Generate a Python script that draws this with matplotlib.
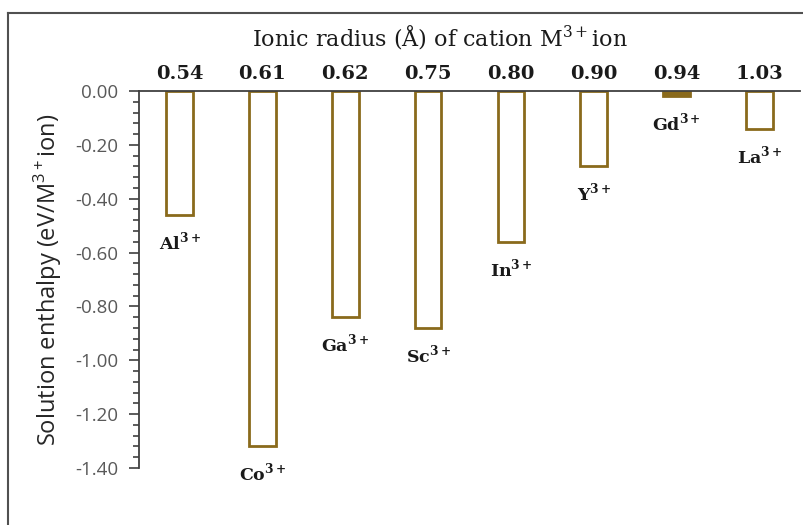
import matplotlib
matplotlib.use('Agg')
import matplotlib.pyplot as plt
from matplotlib.lines import Line2D
from matplotlib.ticker import MultipleLocator, FixedLocator


ions = ['Al', 'Co', 'Ga', 'Sc', 'In', 'Y', 'Gd', 'La']
radii = ['0.54', '0.61', '0.62', '0.75', '0.80', '0.90', '0.94', '1.03']
enthalpy = [-0.46, -1.32, -0.84, -0.88, -0.56, -0.28, -0.02, -0.14]

bar_color = '#8a6a1c'
axis_color = '#404040'
serif = 'DejaVu Serif'
sans = 'Open Sans'

fig = plt.figure(figsize=(8.04, 5.25), dpi=100)
ax = fig.add_axes([139 / 804, (525 - 468) / 525, (800 - 139) / 804, (468 - 91) / 525])

xs = list(range(len(ions)))
for i, val in zip(xs, enthalpy):
    filled = abs(val) < 0.03
    ax.bar(i, val, width=0.32, facecolor=bar_color if filled else 'white',
           edgecolor=bar_color, linewidth=2)
    ax.annotate(ions[i] + r'$^{\mathregular{3+}}$', (i, val), xytext=(0, -27),
                textcoords='offset pixels', ha='center', va='center',
                fontsize=12.5, fontweight='bold', family=serif, color='#1a1a1a')

ax.set_xlim(-0.49, 7.49)
ax.set_ylim(-1.4, 0)

for s in ['right', 'bottom']:
    ax.spines[s].set_visible(False)
for s in ['left', 'top']:
    ax.spines[s].set_color(axis_color)
    ax.spines[s].set_linewidth(1.3)

ax.xaxis.tick_top()
ax.xaxis.set_major_locator(FixedLocator(xs))
ax.set_xticklabels(radii, fontsize=14, fontweight='bold', family=serif, color='#1a1a1a')
ax.tick_params(axis='x', length=0, pad=6)

ax.yaxis.set_major_locator(MultipleLocator(0.2))
ax.yaxis.set_minor_locator(MultipleLocator(0.04))
ax.set_yticks(ax.get_yticks())
ax.set_yticklabels(['%.2f' % v for v in ax.get_yticks()], family=sans, fontsize=13.5,
                   color='#595959')
ax.set_ylim(-1.4, 0)
ax.tick_params(axis='y', which='major', length=7, width=1.2, color=axis_color, pad=8)
ax.tick_params(axis='y', which='minor', length=4, width=1.2, color=axis_color)

ax.set_ylabel(r'Solution enthalpy (eV/M$^{\mathregular{3+}}$ion)', family=sans,
              fontsize=17, color='#262626', labelpad=8)
fig.text(440 / 804, 1 - 37 / 525, r'Ionic radius (Å) of cation M$^{\mathregular{3+}}$ion',
         family=serif, fontsize=16, ha='center', va='center', color='#1a1a1a')

# outer frame
fig.add_artist(Line2D([8 / 804, 8 / 804], [0, 1 - 13 / 525], transform=fig.transFigure,
                      color='#505050', linewidth=1.5))
fig.add_artist(Line2D([8 / 804, 1], [1 - 13 / 525, 1 - 13 / 525], transform=fig.transFigure,
                      color='#505050', linewidth=1.5))

plt.savefig('out.png', dpi=100)
